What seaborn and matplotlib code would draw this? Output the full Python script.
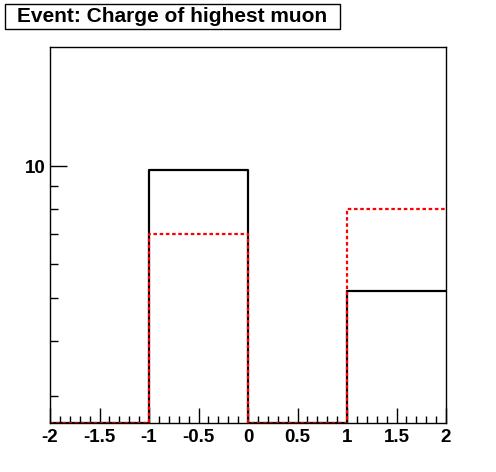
import matplotlib.pyplot as plt
import seaborn as sns
import numpy as np
from matplotlib.patches import Rectangle
from matplotlib.ticker import FixedLocator, NullFormatter, FixedFormatter, MultipleLocator

# bin edges and contents
bin_edges = [-2, -1, 0, 1, 2]
black_counts = [0, 9.8, 0, 5.2]
red_counts = [0, 7.0, 0, 8.0]
x_tick_vals = [-2, -1.5, -1, -0.5, 0, 0.5, 1, 1.5, 2]
x_tick_labels = ['-2', '-1.5', '-1', '-0.5', '0', '0.5', '1', '1.5', '2']
y_min, y_max = 2.6, 18.7

sns.set_style('white')
plt.rcParams['font.family'] = ['Liberation Sans', 'DejaVu Sans']
plt.rcParams['text.color'] = 'black'
plt.rcParams['xtick.labelcolor'] = 'black'
plt.rcParams['ytick.labelcolor'] = 'black'

W, H = 496, 472
fig = plt.figure(figsize=(W / 100, H / 100), dpi=100)
ax = fig.add_axes([50 / W, 49 / H, 396 / W, 376 / H])
ax.set_yscale('log')


def step_y(counts):
    # repeat last bin so steps-post reaches the right edge, sit empty bins on the floor
    vals = list(counts) + [counts[-1]]
    return np.maximum(vals, y_min)


sns.lineplot(x=bin_edges, y=step_y(black_counts), ax=ax, color='black',
             lw=1.6, drawstyle='steps-post', estimator=None, sort=False)
sns.lineplot(x=bin_edges, y=step_y(red_counts), ax=ax, color='#ff0000',
             lw=1.6, drawstyle='steps-post', estimator=None, sort=False,
             dashes=False, linestyle=(0, (1.6, 1.2)))

ax.set_xlim(-2, 2)
ax.set_ylim(y_min, y_max)

for s in ax.spines.values():
    s.set_color('black')
    s.set_linewidth(1.0)

ax.xaxis.set_major_locator(FixedLocator(x_tick_vals))
ax.xaxis.set_major_formatter(FixedFormatter(x_tick_labels))
ax.xaxis.set_minor_locator(MultipleLocator(0.1))
ax.yaxis.set_major_locator(FixedLocator([10]))
ax.yaxis.set_major_formatter(FixedFormatter(['10']))
ax.yaxis.set_minor_locator(FixedLocator([3, 4, 5, 6, 7, 8, 9]))
ax.yaxis.set_minor_formatter(NullFormatter())

ax.tick_params(axis='both', which='both', direction='in', color='black',
               labelcolor='black', top=False, right=False, bottom=True, left=True)
ax.tick_params(axis='x', which='major', length=11, width=1, pad=4.5)
ax.tick_params(axis='x', which='minor', length=5, width=1)
ax.tick_params(axis='y', which='major', length=12, width=1, pad=3.5)
ax.tick_params(axis='y', which='minor', length=6, width=1)
for lab in ax.get_xticklabels() + ax.get_yticklabels():
    lab.set_fontweight('bold')
    lab.set_fontsize(13.5)

ax.set_xlabel('')
ax.set_ylabel('')

# title box like ROOT's pave
fig.patches.append(Rectangle((5 / W, (H - 29) / H), 335 / W, 25 / H,
                             transform=fig.transFigure, facecolor='white',
                             edgecolor='black', linewidth=1))
fig.text(172.5 / W, (H - 16.5) / H, 'Event: Charge of highest muon',
         ha='center', va='center', fontsize=15, fontweight='bold', color='black')

plt.savefig('out.png', dpi=100)
